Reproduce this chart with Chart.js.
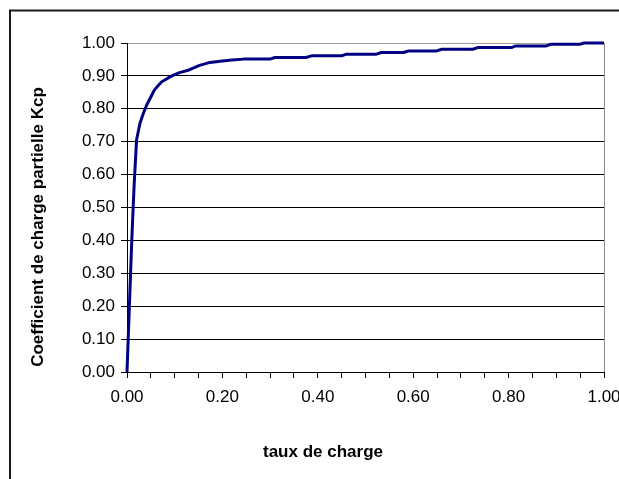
<!DOCTYPE html>
<html>
<head>
<meta charset="utf-8">
<script src="https://cdn.jsdelivr.net/npm/chart.js@4.4.1/dist/chart.umd.min.js"></script>
<style>
  html, body { margin: 0; padding: 0; background: #ffffff; }
  #c { display: block; }
</style>
</head>
<body>
<canvas id="c" width="619" height="479"></canvas>
<script>
// ---- Data ----
const xValues = [0, 0.005, 0.01, 0.015, 0.018, 0.02, 0.027, 0.034, 0.041, 0.05, 0.057, 0.065, 0.073, 0.082, 0.09, 0.1, 0.11, 0.13, 0.152, 0.174, 0.2, 0.22, 0.244, 0.3, 0.31, 0.375, 0.387, 0.45, 0.46, 0.523, 0.533, 0.58, 0.59, 0.649, 0.66, 0.725, 0.735, 0.806, 0.815, 0.879, 0.888, 0.949, 0.958, 1.0];
const yValues = [0, 0.2, 0.40, 0.57, 0.65, 0.705, 0.755, 0.785, 0.811, 0.836, 0.856, 0.870, 0.882, 0.890, 0.897, 0.904, 0.910, 0.918, 0.932, 0.941, 0.945, 0.948, 0.951, 0.951, 0.956, 0.956, 0.961, 0.961, 0.966, 0.966, 0.971, 0.971, 0.976, 0.976, 0.981, 0.981, 0.986, 0.986, 0.991, 0.991, 0.996, 0.996, 1.0, 1.0];
const xTickLabels = ['0.00', '0.20', '0.40', '0.60', '0.80', '1.00'];
const yTickLabels = ['0.00', '0.10', '0.20', '0.30', '0.40', '0.50', '0.60', '0.70', '0.80', '0.90', '1.00'];
const xTitle = 'taux de charge';
const yTitle = 'Coefficient de charge partielle Kcp';

const points = xValues.map((x, i) => ({ x: x, y: yValues[i] }));

const frameAndTitles = {
  id: 'frameAndTitles',
  beforeDraw(chart) {
    const ctx = chart.ctx;
    ctx.save();
    ctx.fillStyle = '#ffffff';
    ctx.fillRect(0, 0, chart.width, chart.height);
    ctx.restore();
  },
  afterDraw(chart) {
    const ctx = chart.ctx;
    const a = chart.chartArea;
    ctx.save();
    // outer chart frame (continues beyond right/bottom edges)
    ctx.strokeStyle = '#1a1a1a';
    ctx.lineWidth = 2;
    ctx.strokeRect(10, 10.5, 700, 700);
    // right plot border in gray
    ctx.strokeStyle = '#8c8c8c';
    ctx.lineWidth = 1;
    ctx.beginPath();
    ctx.moveTo(Math.round(a.right) + 0.5, a.top);
    ctx.lineTo(Math.round(a.right) + 0.5, a.bottom);
    ctx.stroke();
    // axis titles
    ctx.fillStyle = '#000000';
    ctx.font = 'bold 17px "Liberation Sans", Arial, sans-serif';
    ctx.textAlign = 'center';
    ctx.textBaseline = 'middle';
    ctx.fillText(xTitle, 323, 452);
    ctx.translate(38, 227);
    ctx.rotate(-Math.PI / 2);
    ctx.fillText(yTitle, 0, 0);
    ctx.restore();
  }
};

new Chart(document.getElementById('c'), {
  type: 'scatter',
  data: {
    datasets: [{
      data: points,
      showLine: true,
      borderColor: '#000080',
      backgroundColor: '#000080',
      borderWidth: 3,
      pointRadius: 0,
      pointHoverRadius: 0,
      tension: 0,
      borderJoinStyle: 'round',
      clip: 4
    }]
  },
  plugins: [frameAndTitles],
  options: {
    responsive: false,
    animation: false,
    devicePixelRatio: 1,
    layout: { padding: { left: 0, top: 43, right: 15, bottom: 0 } },
    plugins: { legend: { display: false }, tooltip: { enabled: false }, title: { display: false } },
    scales: {
      x: {
        type: 'linear',
        min: 0,
        max: 1,
        afterFit(scale) { scale.height = 107; scale.paddingLeft = 0; scale.paddingRight = 0; },
        afterBuildTicks(scale) {
          const t = [];
          for (let i = 0; i <= 20; i++) t.push({ value: i * 0.05 });
          scale.ticks = t;
        },
        ticks: {
          autoSkip: false,
          maxRotation: 0,
          minRotation: 0,
          padding: 9,
          color: '#000000',
          font: { family: '"Liberation Sans", Arial, sans-serif', size: 17 },
          callback(value, index) {
            return index % 4 === 0 ? xTickLabels[index / 4] : '';
          }
        },
        grid: { drawOnChartArea: false, drawTicks: true, tickLength: 6, color: '#000000', tickColor: '#000000' },
        border: { display: true, color: '#000000', width: 1 }
      },
      y: {
        type: 'linear',
        min: 0,
        max: 1,
        afterFit(scale) { scale.width = 127; scale.paddingTop = 0; scale.paddingBottom = 0; },
        afterBuildTicks(scale) {
          const t = [];
          for (let i = 0; i <= 10; i++) t.push({ value: i * 0.1 });
          scale.ticks = t;
        },
        ticks: {
          autoSkip: false,
          padding: 6,
          color: '#000000',
          font: { family: '"Liberation Sans", Arial, sans-serif', size: 17 },
          callback(value, index) { return yTickLabels[index]; }
        },
        grid: {
          drawOnChartArea: true,
          drawTicks: true,
          tickLength: 6,
          color(ctx) { return ctx.index === 10 ? '#9a9a9a' : '#000000'; },
          tickColor: '#000000'
        },
        border: { display: true, color: '#000000', width: 1 }
      }
    }
  }
});
</script>
</body>
</html>
